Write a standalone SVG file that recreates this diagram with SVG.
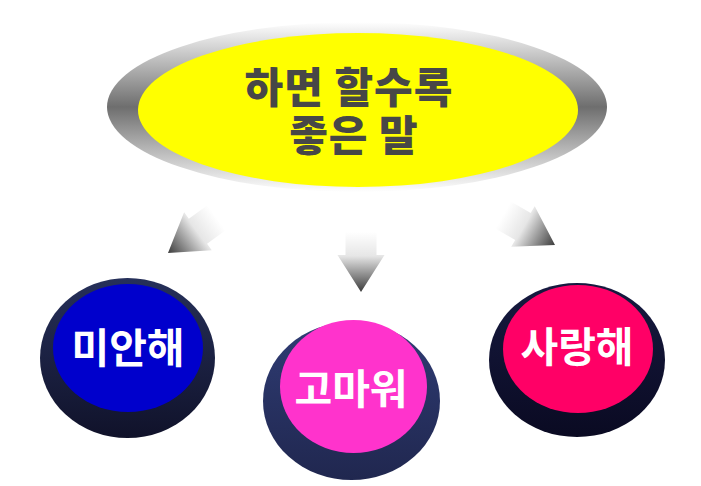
<svg xmlns="http://www.w3.org/2000/svg" width="701" height="486" viewBox="0 0 701 486">
  <defs>
    <linearGradient id="ring" x1="0" y1="0" x2="0" y2="1">
      <stop offset="0" stop-color="#ffffff"/>
      <stop offset="0.5" stop-color="#6e6e6e"/>
      <stop offset="1" stop-color="#ffffff"/>
    </linearGradient>
    <linearGradient id="arrowGrad" x1="0" y1="0" x2="0" y2="1">
      <stop offset="0" stop-color="#ffffff"/>
      <stop offset="0.4" stop-color="#e6e6e6"/>
      <stop offset="1" stop-color="#3c3c3c"/>
    </linearGradient>
    <linearGradient id="darkA" x1="0" y1="0" x2="0" y2="1">
      <stop offset="0" stop-color="#26305a"/>
      <stop offset="1" stop-color="#10122a"/>
    </linearGradient>
    <linearGradient id="darkB" x1="0" y1="0" x2="0" y2="1">
      <stop offset="0" stop-color="#2f3c74"/>
      <stop offset="1" stop-color="#20274f"/>
    </linearGradient>
    <linearGradient id="darkC" x1="0" y1="0" x2="0" y2="1">
      <stop offset="0" stop-color="#161a40"/>
      <stop offset="1" stop-color="#0a0a22"/>
    </linearGradient>
    <path id="arrow" d="M0,0 L-23.5,-37 L-15.5,-37 L-15.5,-60 L15.5,-60 L15.5,-37 L23.5,-37 Z"/>
  </defs>
  <style>
    .title { font-family: "Noto Sans CJK KR", "Noto Sans", sans-serif; font-weight: 900; font-size: 42px; letter-spacing: 1px; fill: #474747; text-anchor: middle; }
    .label { font-family: "Noto Sans CJK KR", "Noto Sans", sans-serif; font-weight: 700; font-size: 41px; fill: #ffffff; text-anchor: middle; }
  </style>
  <rect width="701" height="486" fill="#ffffff"/>

  <g id="top">
    <ellipse cx="357" cy="107" rx="250" ry="85" fill="url(#ring)"/>
    <ellipse cx="358" cy="110" rx="220" ry="77" fill="#ffff00"/>
    <text class="title"><tspan x="349" y="103">하면 할수록</tspan><tspan x="354" y="151">좋은 말</tspan></text>
  </g>

  <g id="connectors">
    <use href="#arrow" fill="url(#arrowGrad)" transform="translate(168,253) rotate(54)"/>
    <use href="#arrow" fill="url(#arrowGrad)" transform="translate(361,292)"/>
    <use href="#arrow" fill="url(#arrowGrad)" transform="translate(555,245) rotate(-60)"/>
  </g>

  <g id="node-sorry">
    <ellipse cx="127.5" cy="358" rx="87.5" ry="80" fill="url(#darkA)"/>
    <ellipse cx="128" cy="348" rx="75" ry="64" fill="#0000cc"/>
    <text class="label" x="128" y="363">미안해</text>
  </g>

  <g id="node-thanks">
    <ellipse cx="351.5" cy="401" rx="88.5" ry="79" fill="url(#darkB)"/>
    <ellipse cx="353.5" cy="386.5" rx="73.5" ry="66.5" fill="#ff33cc"/>
    <text class="label" x="351" y="404">고마워</text>
  </g>

  <g id="node-love">
    <ellipse cx="577" cy="360" rx="88" ry="77" fill="url(#darkC)"/>
    <ellipse cx="578" cy="349" rx="75" ry="64" fill="#ff0066"/>
    <text class="label" x="577" y="362">사랑해</text>
  </g>
</svg>
